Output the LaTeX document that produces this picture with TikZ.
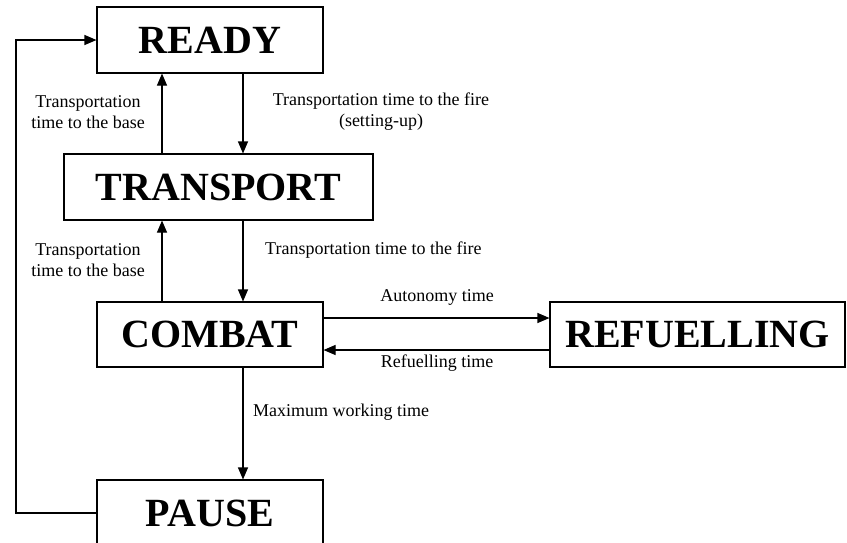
\documentclass[tikz,border=0pt]{standalone}
\usepackage{fontspec}
\setmainfont{Liberation Serif}
\usetikzlibrary{arrows.meta}
\tikzset{
  statebox/.style={draw, line width=1.1pt, inner sep=0pt, font=\fontsize{40}{44}\selectfont\bfseries},
  lbl/.style={font=\fontsize{18}{21}\selectfont, inner sep=0pt, align=center},
  arr/.style={line width=1.1pt, -{Triangle[length=12pt,width=10pt]}},
  ln/.style={line width=1.1pt}
}
\begin{document}
\begin{tikzpicture}[x=1pt,y=-1pt]
\clip (0,0) rectangle (847,542);
\fill[white] (0,0) rectangle (847,542);
\node[statebox, minimum width=226pt, minimum height=66pt] (ready) at (210,40) {READY};
\node[statebox, minimum width=309pt, minimum height=66pt] (transport) at (218.5,187) {TRANSPORT};
\node[statebox, minimum width=226pt, minimum height=65pt] (combat) at (210,334.5) {COMBAT};
\node[statebox, minimum width=295pt, minimum height=65pt] (refuel) at (697.5,334.5) {REFUELLING};
\node[statebox, minimum width=226pt, minimum height=66pt] (pause) at (210,513) {PAUSE};
\coordinate (ux) at (162,0);
\coordinate (dx) at (243,0);
\coordinate (ya) at (0,318);
\coordinate (yb) at (0,350);
\coordinate (lx) at (16,0);
% vertical arrows
\draw[arr] (transport.north -| ux) -- (ready.south -| ux);
\draw[arr] (ready.south -| dx) -- (transport.north -| dx);
\draw[arr] (combat.north -| ux) -- (transport.south -| ux);
\draw[arr] (transport.south -| dx) -- (combat.north -| dx);
\draw[arr] (combat.south -| dx) -- (pause.north -| dx);
% horizontal arrows
\draw[arr] (combat.east |- ya) -- (refuel.west |- ya);
\draw[arr] (refuel.west |- yb) -- (combat.east |- yb);
% loop back
\draw[arr] (pause.west) -| (lx |- ready.west) -- (ready.west);
% labels
\node[lbl] (l1) at (88,112) {Transportation\\time to the base};
\node[lbl] (l2) at (88,260) {Transportation\\time to the base};
\node[lbl] (l3) at (381,112) {Transportation time to the fire\\(setting-up)};
\node[lbl, anchor=west] (l4) at (265,250) {Transportation time to the fire};
\node[lbl] (l5) at (437,297) {Autonomy time};
\node[lbl] (l6) at (437,363) {Refuelling time};
\node[lbl, anchor=west] (l7) at (253,412) {Maximum working time};
\end{tikzpicture}
\end{document}
